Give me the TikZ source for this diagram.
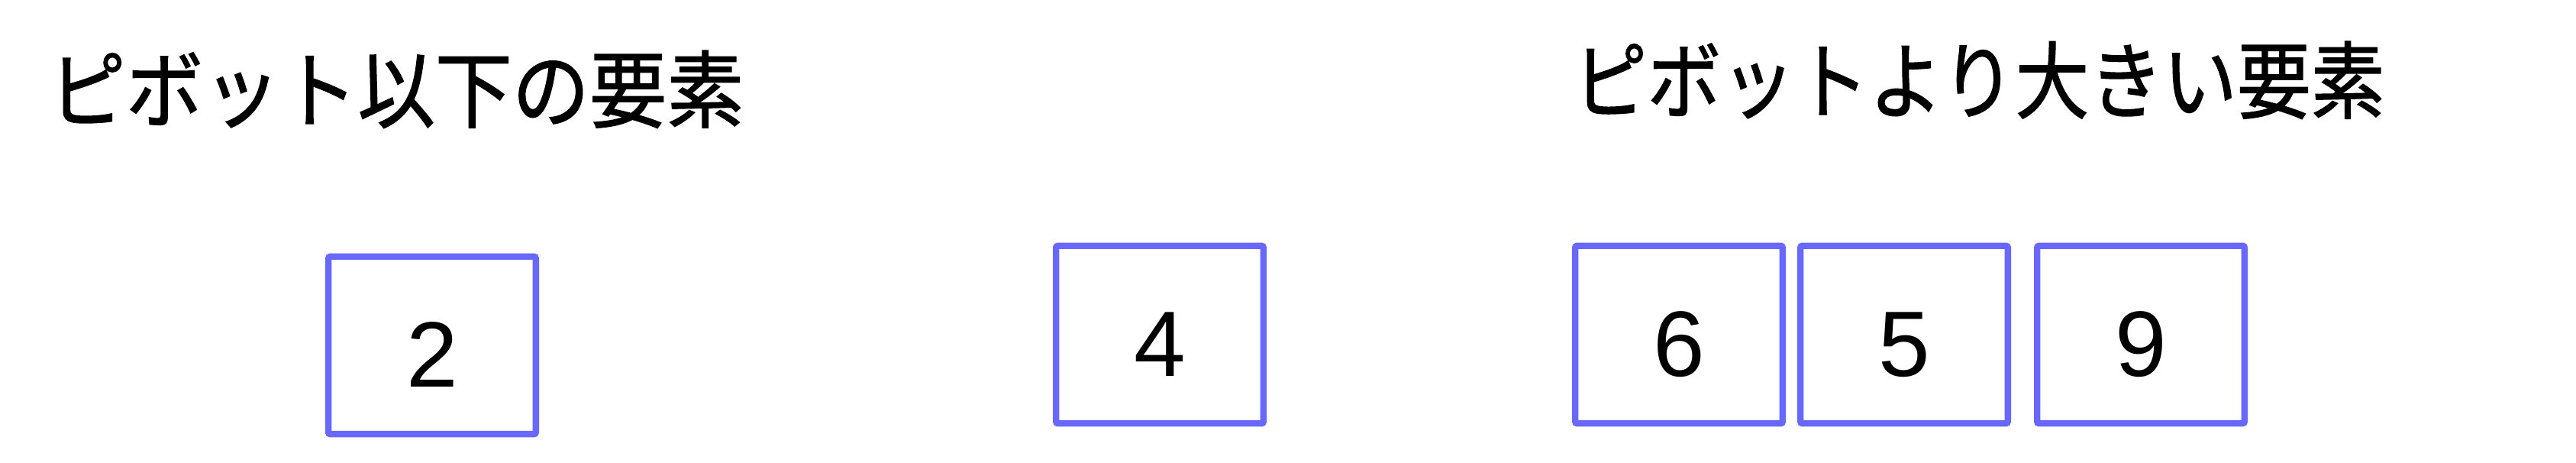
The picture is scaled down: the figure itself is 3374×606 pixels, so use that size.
\documentclass[tikz,border=0pt]{standalone}
\usepackage{fontspec}
\setmainfont{Noto Sans CJK JP}
\newfontfamily\titlefont[FakeBold=1.3]{Noto Sans CJK JP}
\newfontfamily\digitfont{Liberation Sans}
\definecolor{boxblue}{RGB}{104,104,255}
\begin{document}
\begin{tikzpicture}[x=0.25pt,y=-0.25pt,
    elem/.style={draw=boxblue,line width=2.1pt,rounded corners=0.6pt,
      minimum width=67.9pt,minimum height=58.1pt,inner sep=0pt,
      font=\digitfont\fontsize{30.4}{36}\selectfont,text height=27.4pt,text depth=0pt},
    title/.style={anchor=west,inner sep=0pt,font=\titlefont\fontsize{27.5}{33}\selectfont}]
    \useasboundingbox (0,0) rectangle (3374,606);
    \node[title,xscale=0.92] (low) at (63,117) {ピボット以下の要素};
    \node[title,xscale=0.88] (high) at (2060,105) {ピボットより大きい要素};

    \node[elem] (e2) at (566,452) {2};
    \node[elem] (e4) at (1519,438) {4};
    \node[elem] (e6) at (2199,438) {6};
    \node[elem] (e5) at (2494,438) {5};
    \node[elem] (e9) at (2804,438) {9};
  \end{tikzpicture}
\end{document}
